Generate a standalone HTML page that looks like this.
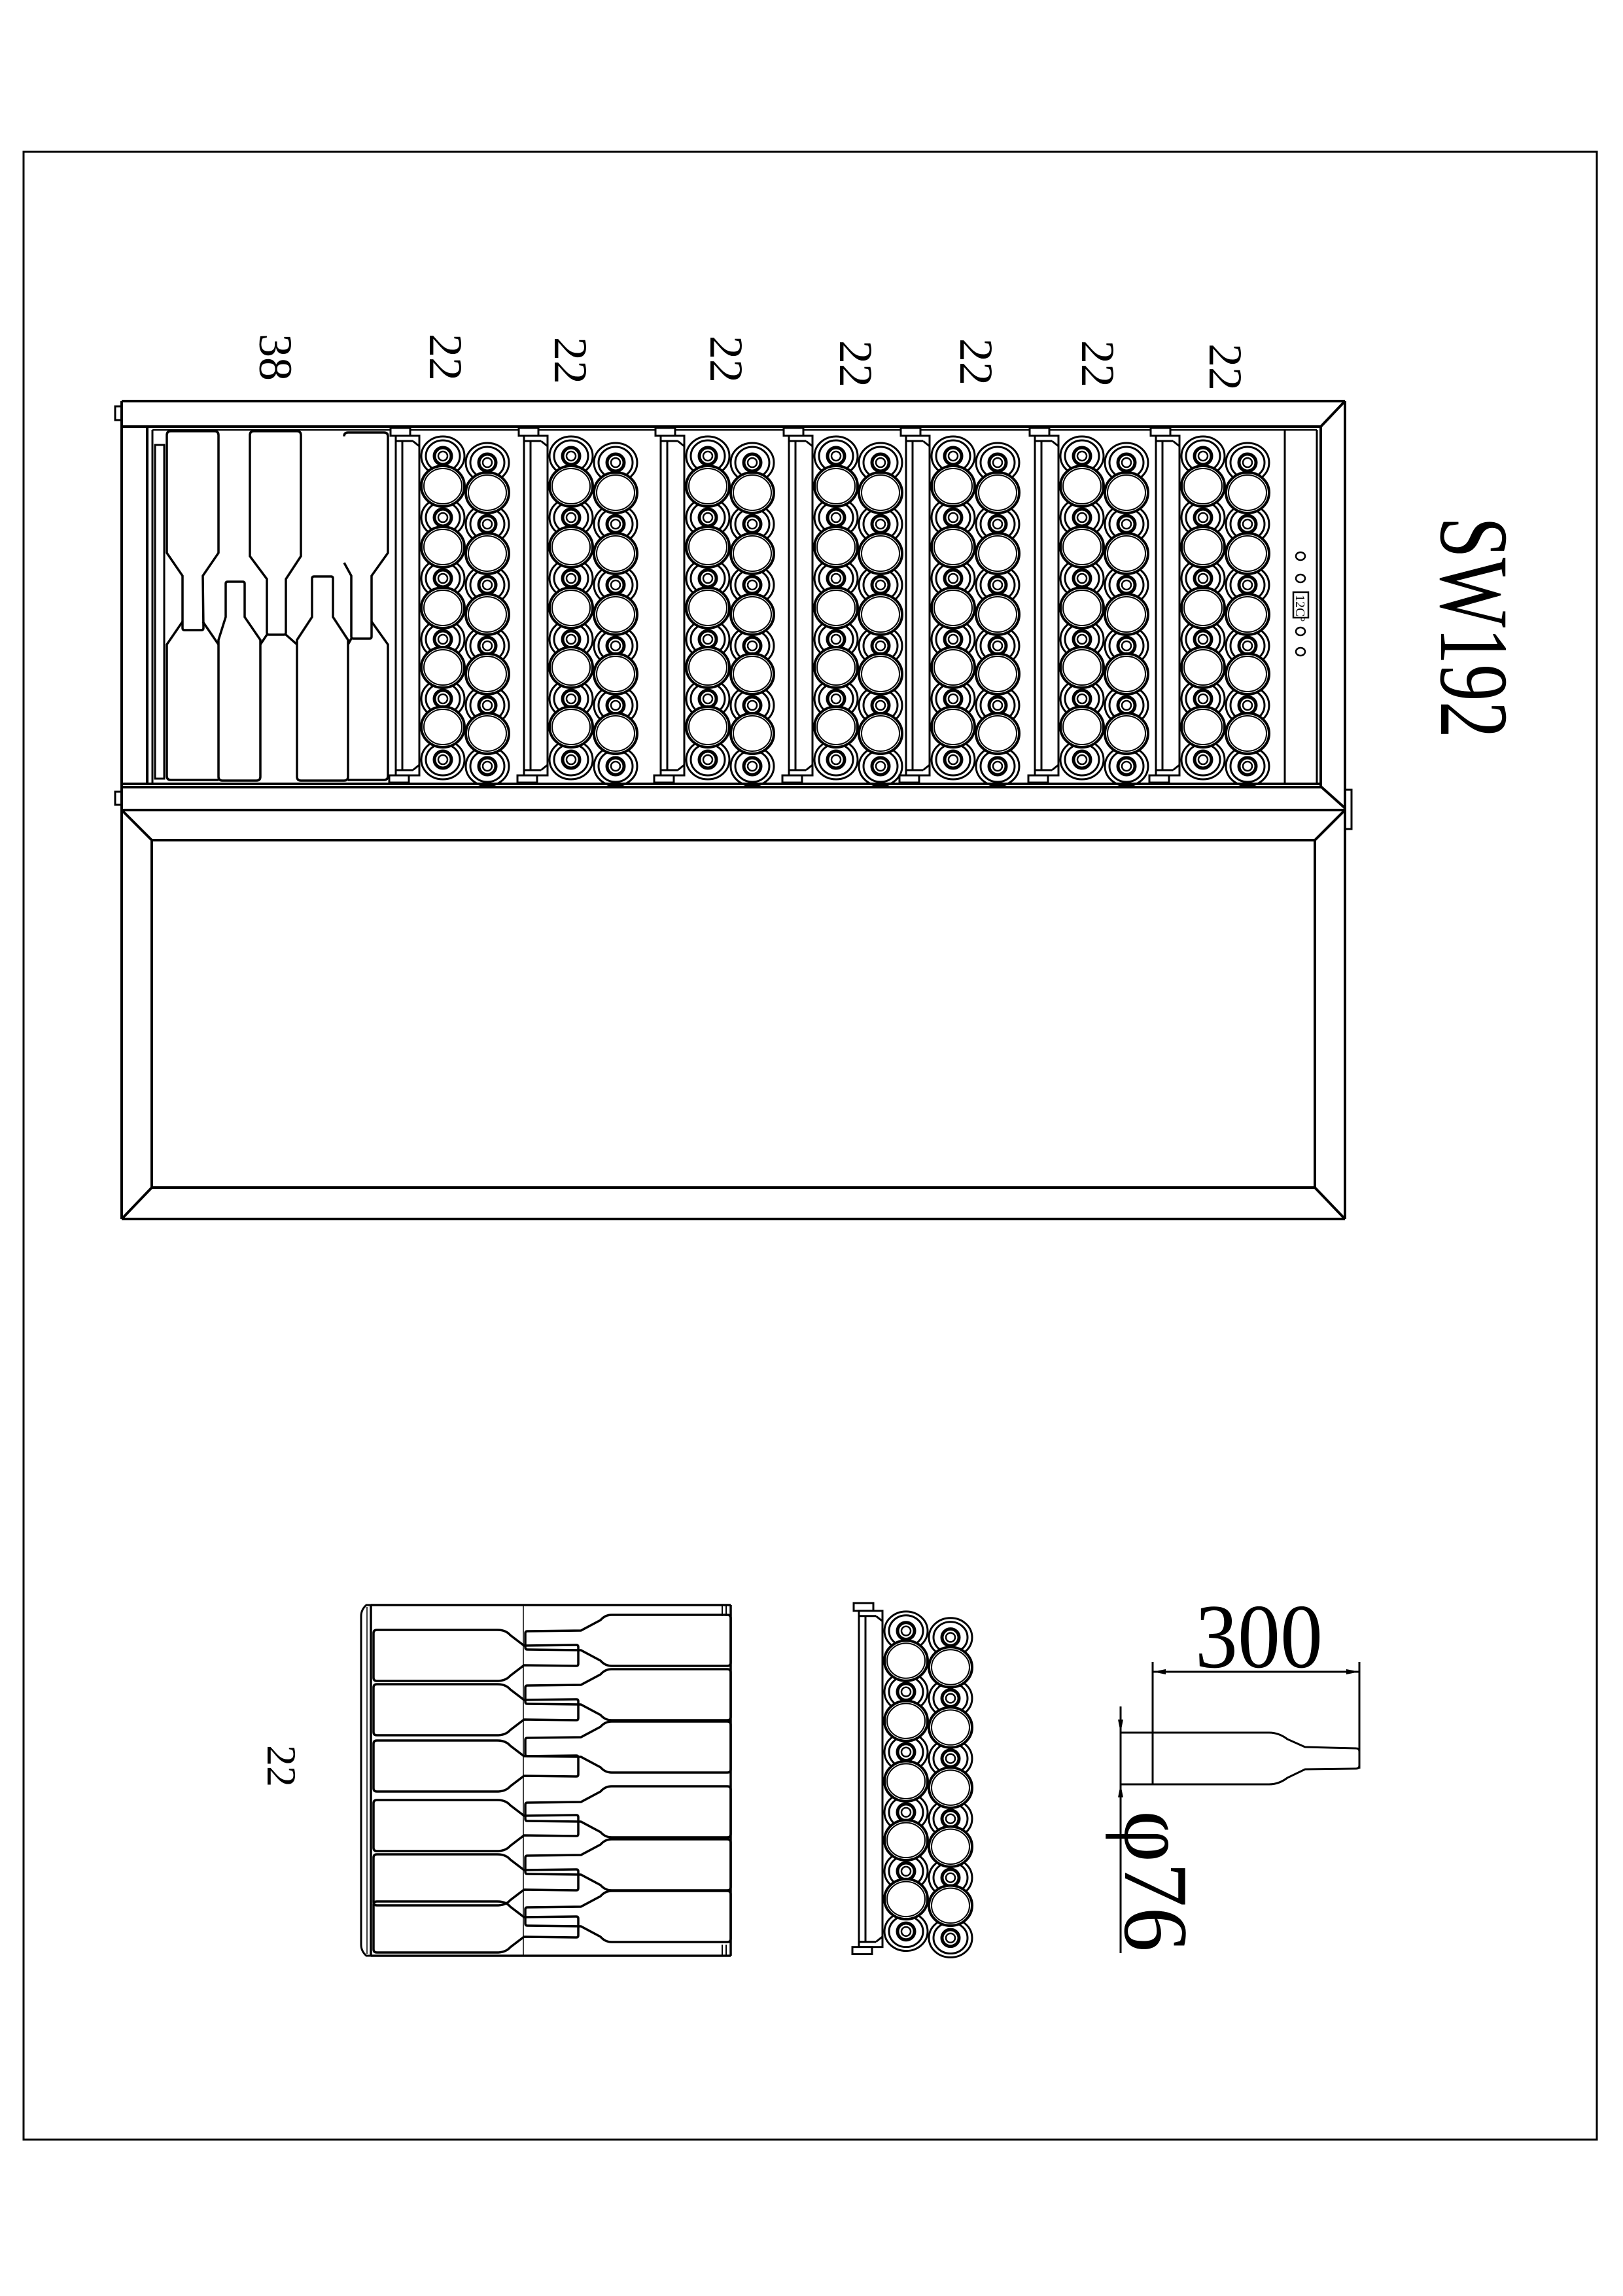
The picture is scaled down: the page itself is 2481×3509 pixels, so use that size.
<!DOCTYPE html>
<html><head><meta charset="utf-8"><style>
html,body{margin:0;padding:0;background:#fff;}
svg{display:block;}
text{font-family:"Liberation Serif",serif;fill:#000;}
</style></head><body>
<svg width="2481" height="3509" viewBox="0 0 2481 3509" xmlns="http://www.w3.org/2000/svg">
<defs>
<g id="ring" fill="none" stroke="#000">
<ellipse rx="33" ry="30" stroke-width="3"/>
<ellipse rx="26" ry="24" stroke-width="3"/>
<circle r="13" stroke-width="5"/>
<circle r="7" stroke-width="2.5"/>
</g>
<g id="big" stroke="#000">
<ellipse rx="33" ry="31" fill="#fff" stroke-width="4"/>
<ellipse rx="29" ry="27" fill="none" stroke-width="2"/>
</g>
<g id="col">
<use href="#ring" y="45"/><use href="#ring" y="139"/><use href="#ring" y="232"/><use href="#ring" y="325"/><use href="#ring" y="416"/><use href="#ring" y="509"/>
<use href="#big" y="91"/><use href="#big" y="184"/><use href="#big" y="277"/><use href="#big" y="368"/><use href="#big" y="459"/>
</g>
<g id="rack">
<g fill="#fff" stroke="#000" stroke-width="3">
<rect x="-80" y="2" width="30" height="12"/>
<rect x="-72" y="14" width="36" height="519"/>
<line x1="-62" y1="22" x2="-62" y2="525"/>
<line x1="-72" y1="22" x2="-46" y2="22"/>
<line x1="-72" y1="525" x2="-46" y2="525"/>
<line x1="-46" y1="22" x2="-36" y2="30"/>
<line x1="-46" y1="525" x2="-36" y2="517"/>
<rect x="-82" y="533" width="30" height="11"/>
</g>
<use href="#col"/>
<use href="#col" x="68" y="10"/>
</g>
<path id="lb" d="M0,5 Q0,0 5,0 L189,0 Q202,0 209,8 L230,24 L310,23 Q313,23 313,26 L313,52 Q313,55 310,55 L230,54 L209,70 Q202,78 189,78 L5,78 Q0,78 0,73 Z" fill="none" stroke="#000" stroke-width="3.5"/>
<path id="rb" d="M194,5 Q194,0 189,0 L12,0 Q2,0 -5,8 L-35,24 L-117,25 Q-120,25 -120,28 L-120,50 Q-120,53 -117,53 L-35,54 L-5,70 Q2,78 12,78 L189,78 Q194,78 194,73 Z" fill="none" stroke="#000" stroke-width="3.5"/>
</defs>

<rect x="0" y="0" width="2481" height="3509" fill="#fff"/>
<rect x="36" y="232" width="2405" height="3038" fill="none" stroke="#000" stroke-width="3"/>

<!-- top labels -->
<g font-size="72">
<text transform="translate(397,510) rotate(90)">38</text>
<text transform="translate(657,510) rotate(90)">22</text>
<text transform="translate(848,515) rotate(90)">22</text>
<text transform="translate(1086,513) rotate(90)">22</text>
<text transform="translate(1284,520) rotate(90)">22</text>
<text transform="translate(1468,517) rotate(90)">22</text>
<text transform="translate(1654,520) rotate(90)">22</text>
<text transform="translate(1849,525) rotate(90)">22</text>
</g>
<text transform="translate(2203,790) rotate(90)" font-size="150" textLength="338" lengthAdjust="spacingAndGlyphs">SW192</text>

<!-- cabinet upper -->
<g fill="none" stroke="#000" stroke-width="4">
<line x1="186" y1="613" x2="2056" y2="613"/>
<line x1="186" y1="613" x2="186" y2="1863"/>
<line x1="2056" y1="613" x2="2056" y2="1863"/>
<line x1="186" y1="652" x2="2019" y2="652"/>
<line x1="2056" y1="613" x2="2019" y2="652"/>
<line x1="225" y1="652" x2="225" y2="1198"/>
<line x1="233" y1="657" x2="233" y2="1198" stroke-width="3"/>
<line x1="233" y1="657" x2="2013" y2="657" stroke-width="2.5"/>
<line x1="2019" y1="652" x2="2019" y2="1202"/>
<line x1="2013" y1="657" x2="2013" y2="1198" stroke-width="3"/>
<line x1="1964" y1="657" x2="1964" y2="1198" stroke-width="3"/>
<line x1="186" y1="1198" x2="2019" y2="1198"/>
<line x1="186" y1="1203" x2="2019" y2="1203"/>
<line x1="2019" y1="1202" x2="2056" y2="1235"/>
<line x1="186" y1="1238" x2="2056" y2="1238"/>
<rect x="176" y="621" width="10" height="21" stroke-width="3"/>
<rect x="176" y="1210" width="10" height="20" stroke-width="3"/>
<rect x="2056" y="1207" width="10" height="60" stroke-width="3"/>
<!-- door -->
<rect x="232" y="1284" width="1778" height="531"/>
<line x1="186" y1="1238" x2="232" y2="1284"/>
<line x1="2056" y1="1238" x2="2010" y2="1284"/>
<line x1="186" y1="1863" x2="232" y2="1815"/>
<line x1="2056" y1="1863" x2="2010" y2="1815"/>
<line x1="186" y1="1863" x2="2056" y2="1863"/>
</g>
<!-- control panel -->
<g fill="none" stroke="#000" stroke-width="2.5">
<ellipse cx="1988" cy="850" rx="7" ry="6"/>
<ellipse cx="1988" cy="884" rx="7" ry="6"/>
<ellipse cx="1988" cy="965" rx="7" ry="6"/>
<ellipse cx="1988" cy="996" rx="7" ry="6"/>
<rect x="1977" y="905" width="23" height="39"/>
</g>
<text transform="translate(1981,909) rotate(90)" font-size="20">12C°</text>

<!-- upper bottles compartment -->
<g fill="none" stroke="#000" stroke-width="3.5">
<rect x="237" y="680" width="14" height="510" stroke-width="3"/>
<path d="M255,665 Q255,659 261,659 L328,659 Q334,659 334,665 L334,845 L310,880 L311,960 Q311,963 308,963 L282,963 Q279,963 279,960 L279,880 L255,845 Z"/>
<path d="M382,665 Q382,659 388,659 L454,659 Q460,659 460,665 L460,850 L437,885 L437,967 Q437,970 434,970 L411,970 Q408,970 408,967 L408,885 L382,850 Z"/>
<path d="M526,667 Q526,661 532,661 L587,661 Q593,661 593,667 L593,845 L568,880 L568,973 Q568,976 565,976 L540,976 Q537,976 537,973 L537,880 L526,860"/>
<path d="M334,1187 L334,978 L345,943 L345,892 Q345,889 348,889 L371,889 Q374,889 374,892 L374,943 L398,978 L398,1187 Q398,1193 392,1193 L340,1193 Q334,1193 334,1187 Z"/>
<path d="M454,1187 L454,978 L477,943 L477,884 Q477,881 480,881 L506,881 Q509,881 509,884 L509,943 L532,978 L532,1187 Q532,1193 526,1193 L460,1193 Q454,1193 454,1187 Z"/>
<path d="M255,1186 L255,985 L279,950 M334,985 L310,950 M255,1186 Q255,1192 261,1192 L334,1192"/>
<path d="M398,985 L408,970 M454,985 L437,970"/>
<path d="M532,985 L537,976 M593,1186 L593,985 L568,950 M532,1192 L587,1192 Q593,1192 593,1186"/>
</g>

<!-- upper racks -->
<use href="#rack" transform="translate(677,652)"/>
<use href="#rack" transform="translate(873,652)"/>
<use href="#rack" transform="translate(1082,652)"/>
<use href="#rack" transform="translate(1278,652)"/>
<use href="#rack" transform="translate(1457,652)"/>
<use href="#rack" transform="translate(1654,652)"/>
<use href="#rack" transform="translate(1839,652)"/>
<!-- redraw bottom line over rings -->
<rect x="236" y="1196" width="1776" height="1.5" fill="#000"/>

<!-- bottom-left bottle rack -->
<g fill="none" stroke="#000" stroke-width="3.5">
<line x1="567" y1="2453" x2="1117" y2="2453"/>
<line x1="567" y1="2989" x2="1117" y2="2989"/>
<line x1="1117" y1="2453" x2="1117" y2="2989"/>
<path d="M567,2453 L560,2453 Q552,2460 552,2470 L552,2972 Q552,2982 560,2989 L567,2989" stroke-width="3"/>
<line x1="567" y1="2453" x2="567" y2="2989"/>
<line x1="561" y1="2456" x2="561" y2="2986" stroke-width="1.5"/>
<line x1="1110" y1="2453" x2="1110" y2="2470" stroke-width="2"/>
<line x1="1104" y1="2453" x2="1104" y2="2470" stroke-width="2"/>
<line x1="1110" y1="2972" x2="1110" y2="2989" stroke-width="2"/>
<line x1="1104" y1="2972" x2="1104" y2="2989" stroke-width="2"/>
<line x1="800" y1="2453" x2="800" y2="2989" stroke-width="1.5"/>
</g>
<use href="#lb" x="571" y="2491"/>
<use href="#lb" x="571" y="2574"/>
<use href="#lb" x="571" y="2660"/>
<use href="#lb" x="571" y="2751"/>
<use href="#lb" x="571" y="2834"/>
<use href="#lb" x="571" y="2906"/>
<use href="#rb" x="923" y="2468"/>
<use href="#rb" x="923" y="2551"/>
<use href="#rb" x="923" y="2631"/>
<use href="#rb" x="923" y="2730"/>
<use href="#rb" x="923" y="2811"/>
<use href="#rb" x="923" y="2890"/>
<text transform="translate(409,2667) rotate(90)" font-size="64">22</text>

<!-- bottom middle rack -->
<use href="#rack" transform="translate(1385,2448) scale(1,0.99)"/>

<!-- bottle dimension -->
<g fill="none" stroke="#000" stroke-width="3">
<line x1="1762" y1="2555" x2="2078" y2="2555"/>
<line x1="1762" y1="2540" x2="1762" y2="2727"/>
<line x1="2078" y1="2540" x2="2078" y2="2703"/>
<path d="M1765,2648 L1940,2648 Q1955,2648 1968,2658 L1995,2670 L2073,2672 Q2078,2672 2078,2677 L2078,2698 Q2078,2703 2073,2703 L1995,2704 L1968,2717 Q1955,2727 1940,2727 L1765,2727"/>
<line x1="1713" y1="2648" x2="1765" y2="2648"/>
<line x1="1713" y1="2727" x2="1765" y2="2727"/>
<line x1="1713" y1="2608" x2="1713" y2="2985"/>
</g>
<g fill="#000">
<polygon points="1762,2555 1782,2551 1782,2559"/>
<polygon points="2078,2555 2058,2551 2058,2559"/>
<polygon points="1713,2648 1709,2628 1717,2628"/>
<polygon points="1713,2727 1709,2747 1717,2747"/>
</g>
<text x="1827" y="2548" font-size="140" textLength="195" lengthAdjust="spacingAndGlyphs">300</text>
<text transform="translate(1720,2767) rotate(90)" font-size="140" textLength="216" lengthAdjust="spacingAndGlyphs">φ76</text>
</svg>
</body></html>
